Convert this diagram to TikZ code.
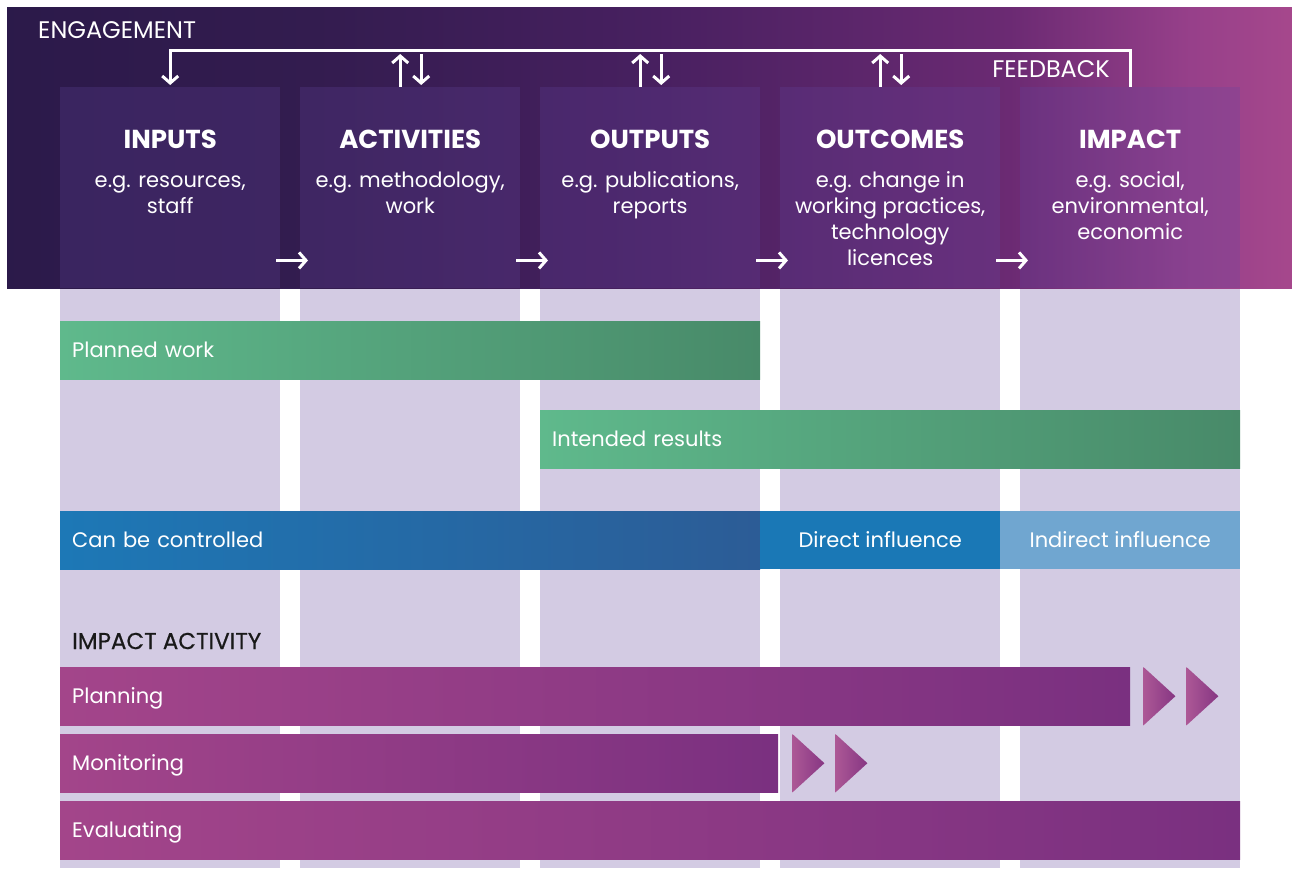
\documentclass[tikz,border=0pt]{standalone}
\usepackage{fontspec}
\setmainfont{Poppins}
\usetikzlibrary{positioning,arrows.meta,calc}

\definecolor{colback}{RGB}{211,203,227}
\definecolor{colover}{RGB}{100,70,160}
\definecolor{greenleft}{RGB}{95,185,140}
\definecolor{greenright}{RGB}{72,138,105}
\definecolor{blueleft}{RGB}{29,120,182}
\definecolor{blueright}{RGB}{44,92,150}
\definecolor{bluedirect}{RGB}{26,120,182}
\definecolor{blueindirect}{RGB}{112,166,208}
\definecolor{magleft}{RGB}{163,69,138}
\definecolor{magright}{RGB}{122,48,128}

\pgfdeclarehorizontalshading{engagement}{100bp}{rgb(0bp)=(0.17,0.10,0.29); rgb(25bp)=(0.17,0.10,0.29); rgb(37bp)=(0.20,0.11,0.31); rgb(50bp)=(0.28,0.125,0.376); rgb(64bp)=(0.42,0.165,0.45); rgb(71bp)=(0.59,0.25,0.54); rgb(75bp)=(0.65,0.28,0.55); rgb(100bp)=(0.65,0.28,0.55)}

\begin{document}
\begin{tikzpicture}[x=1pt, y=-1pt,
		colbox/.style={fill=colover, fill opacity=0.25, minimum width=220pt, minimum height=201pt, anchor=north west, inner sep=0pt},
		coltitle/.style={text=white, font=\fontsize{26}{30}\selectfont\bfseries, inner sep=0pt},
		coldesc/.style={text=white, font=\fontsize{21}{26}\selectfont, align=center, inner sep=0pt},
		toptext/.style={text=white, font=\fontsize{24}{26}\selectfont, inner sep=0pt},
		bar/.style={anchor=north west, minimum height=58pt, inner xsep=12pt, inner ysep=0pt, text height=14.5pt, text depth=0pt, align=left, text=white, font=\fontsize{21}{24}\selectfont},
		greenbar/.style={bar, left color=greenleft, right color=greenright},
		magbar/.style={bar, left color=magleft, right color=magright},
		chevron/.style={left color=magleft!90!white, right color=magright!70!magleft},
		arr/.style={white, line width=3pt, -{Straight Barb[length=7pt,width=16pt]}}]
		
		\useasboundingbox (0,0) rectangle (1292,868);
		\fill[white] (0,0) rectangle (1292,868);
		
		% columns
		\fill[colback] (60,288) rectangle (280,868);
		\fill[colback] (300,288) rectangle (520,868);
		\fill[colback] (540,288) rectangle (760,868);
		\fill[colback] (780,288) rectangle (1000,868);
		\fill[colback] (1020,288) rectangle (1240,868);
		
		% engagement band
		\shade[shading=engagement] (7,7) rectangle (1292,288);
		\node[toptext, anchor=west] (engagement) at (38,30) {ENGAGEMENT};
		
		\node[colbox] (inputs) at (60,87) {};
		\node[colbox] (activities) at (300,87) {};
		\node[colbox] (outputs) at (540,87) {};
		\node[colbox] (outcomes) at (780,87) {};
		\node[colbox] (impact) at (1020,87) {};
		
		\node[coltitle, below=42.5pt of inputs.north] (inputs-title) {INPUTS};
		\node[coltitle, below=42.5pt of activities.north] (activities-title) {ACTIVITIES};
		\node[coltitle, below=42.5pt of outputs.north] (outputs-title) {OUTPUTS};
		\node[coltitle, below=42.5pt of outcomes.north] (outcomes-title) {OUTCOMES};
		\node[coltitle, below=42.5pt of impact.north] (impact-title) {IMPACT};
		
		\node[coldesc, below=23pt of inputs-title] (inputs-desc) {\rule{0pt}{16pt}e.g. resources,\\staff};
		\node[coldesc, below=23pt of activities-title] (activities-desc) {\rule{0pt}{16pt}e.g. methodology,\\work};
		\node[coldesc, below=23pt of outputs-title] (outputs-desc) {\rule{0pt}{16pt}e.g. publications,\\reports};
		\node[coldesc, below=23pt of outcomes-title] (outcomes-desc) {\rule{0pt}{16pt}e.g. change in\\working practices,\\technology\\licences};
		\node[coldesc, below=23pt of impact-title] (impact-desc) {\rule{0pt}{16pt}e.g. social,\\environmental,\\economic};
		
		\node[toptext, anchor=east] (feedback) at (1110,69) {FEEDBACK};
		
		%%%%% Arrows %%%%%%
		\draw[arr] (impact.north) |- ([yshift=37pt]inputs.north) -- ([yshift=2pt]inputs.north);
		\draw[arr] ([xshift=-10pt]activities.north) -- ([xshift=-10pt,yshift=33pt]activities.north);
		\draw[arr] ([xshift=11pt,yshift=33pt]activities.north) -- ([xshift=11pt,yshift=2pt]activities.north);
		\draw[arr] ([xshift=-10pt]outputs.north) -- ([xshift=-10pt,yshift=33pt]outputs.north);
		\draw[arr] ([xshift=11pt,yshift=33pt]outputs.north) -- ([xshift=11pt,yshift=2pt]outputs.north);
		\draw[arr] ([xshift=-10pt]outcomes.north) -- ([xshift=-10pt,yshift=33pt]outcomes.north);
		\draw[arr] ([xshift=11pt,yshift=33pt]outcomes.north) -- ([xshift=11pt,yshift=2pt]outcomes.north);
		
		\draw[arr] ([xshift=-4pt,yshift=28pt]inputs.south east) -- ([xshift=8pt,yshift=28pt]activities.south west);
		\draw[arr] ([xshift=-4pt,yshift=28pt]activities.south east) -- ([xshift=8pt,yshift=28pt]outputs.south west);
		\draw[arr] ([xshift=-4pt,yshift=28pt]outputs.south east) -- ([xshift=8pt,yshift=28pt]outcomes.south west);
		\draw[arr] ([xshift=-4pt,yshift=28pt]outcomes.south east) -- ([xshift=8pt,yshift=28pt]impact.south west);
		
		%%%%% Bars %%%%%%
		\node[greenbar, text width=676pt] (planned) at (60,321) {Planned work};
		\node[greenbar, text width=676pt] (intended) at (540,410) {Intended results};
		
		\node[bar, text width=676pt, left color=blueleft, right color=blueright] (controlled) at (60,511) {Can be controlled};
		\node[bar, align=center, minimum width=240pt, fill=bluedirect] (direct) at (760,511) {Direct influence};
		\node[bar, align=center, minimum width=240pt, fill=blueindirect] (indirect) at (1000,511) {Indirect influence};
		
		\node[anchor=west, inner sep=0pt, text=black!90, font=\fontsize{23}{26}\selectfont\addfontfeatures{FakeBold=0.5}] (impactactivity) at (72,641) {IMPACT ACTIVITY};
		
		\node[magbar, text width=1046pt] (planning) at (60,667) {Planning};
		\node[magbar, text width=694pt] (monitoring) at (60,734) {Monitoring};
		\node[magbar, text width=1156pt] (evaluating) at (60,801) {Evaluating};
		
		\shade[chevron] ([xshift=13pt]planning.north east) -- ([xshift=45pt]planning.east) -- ([xshift=13pt]planning.south east) -- cycle;
		\shade[chevron] ([xshift=56pt]planning.north east) -- ([xshift=88pt]planning.east) -- ([xshift=56pt]planning.south east) -- cycle;
		\shade[chevron] ([xshift=14pt]monitoring.north east) -- ([xshift=46pt]monitoring.east) -- ([xshift=14pt]monitoring.south east) -- cycle;
		\shade[chevron] ([xshift=57pt]monitoring.north east) -- ([xshift=89pt]monitoring.east) -- ([xshift=57pt]monitoring.south east) -- cycle;
		
	\end{tikzpicture}
\end{document}
